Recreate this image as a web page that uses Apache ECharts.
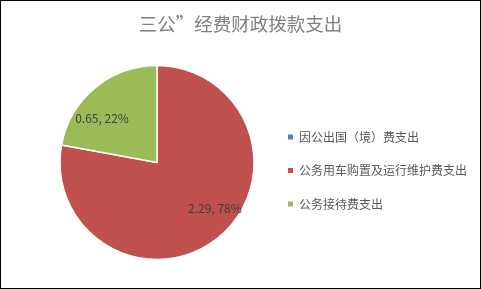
<!DOCTYPE html>
<html><head><meta charset="utf-8">
<script src="https://cdn.jsdelivr.net/npm/echarts@6/dist/echarts.min.js"></script>
<style>
html,body{margin:0;padding:0;background:#fff;}
#c{width:481px;height:289px;box-sizing:border-box;border:1px solid #000;}
</style></head>
<body><div id="c"></div>
<script>
const titleText = '三公”经费财政拨款支出';
const categories = ['因公出国（境）费支出', '公务用车购置及运行维护费支出', '公务接待费支出'];
const values = [0, 2.29, 0.65];
const colors = ['#4f81bd', '#c0504d', '#9bbb59'];
const labelOffsets = [[0, 0], [25, 6], [-22, -4]];

const chart = echarts.init(document.getElementById('c'));
const font = '"Noto Sans CJK SC", "Noto Sans", sans-serif';
chart.setOption({
  animation: false,
  title: {
    text: titleText, left: 'center', top: 9,
    textStyle: {fontSize: 18.5, fontWeight: 'normal', color: '#808080', fontFamily: font}
  },
  legend: {
    orient: 'vertical', left: 280, top: 125,
    itemWidth: 7, itemHeight: 7, itemGap: 21.5, icon: 'rect',
    textStyle: {fontSize: 12, color: '#595959', fontFamily: font},
    data: categories
  },
  series: [{
    type: 'pie',
    center: [156, 161.5],
    radius: [0, 97],
    startAngle: 90,
    clockwise: true,
    percentPrecision: 0,
    avoidLabelOverlap: false,
    itemStyle: {borderColor: '#fff', borderWidth: 1.5},
    label: {
      show: true, position: 'inside', formatter: '{c}, {d}%',
      fontSize: 12, color: '#404040', fontFamily: font
    },
    labelLine: {show: false},
    emphasis: {disabled: true},
    data: categories.map((n, i) => ({
      name: n, value: values[i],
      itemStyle: {color: colors[i]},
      label: {show: values[i] > 0, offset: labelOffsets[i]}
    }))
  }]
});
</script></body></html>
